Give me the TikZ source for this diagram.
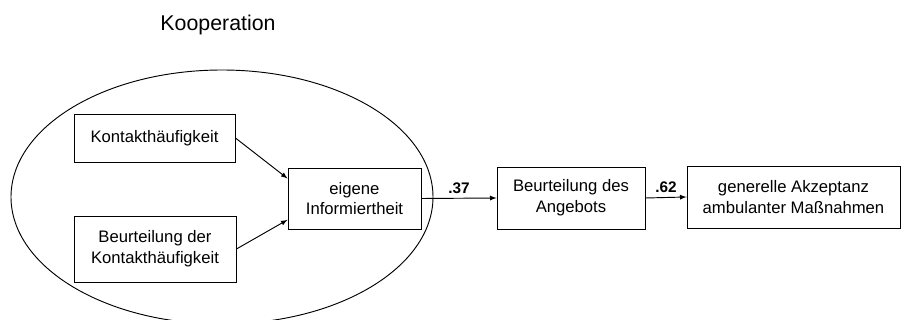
\documentclass[tikz,border=0pt]{standalone}
\usepackage{fontspec}
\setmainfont{Liberation Sans}
\usetikzlibrary{arrows}
\begin{document}
\begin{tikzpicture}[x=0.75pt,y=-0.75pt,
    box/.style={draw, line width=0.7pt, align=center, inner sep=0pt,
      font=\fontsize{12.5}{15.5}\selectfont},
    path/.style={->, >=latex, line width=0.7pt},
    coef/.style={midway, above, font=\fontsize{11.5}{14}\selectfont\bfseries}]
    \useasboundingbox (0,0) rectangle (901,320);
    \begin{scope}
      \clip (0,0) rectangle (901,320);
      \draw[line width=0.7pt] (222,197) ellipse (211 and 127);
    \end{scope}
    \node (titel) at (218,25) {\fontsize{16}{19}\selectfont Kooperation};
    \node[box, minimum width=161*0.75pt, minimum height=48*0.75pt] (kontakt) at (154.5,138) {Kontakthäufigkeit};
    \node[box, minimum width=162*0.75pt, minimum height=66*0.75pt] (beurteilung) at (155,249) {Beurteilung der\\Kontakthäufigkeit};
    \node[box, minimum width=133*0.75pt, minimum height=61*0.75pt] (info) at (354.5,198.5) {eigene\\Informiertheit};
    \node[box, minimum width=148*0.75pt, minimum height=62*0.75pt] (angebot) at (571,198) {Beurteilung des\\Angebots};
    \node[box, minimum width=213*0.75pt, minimum height=62*0.75pt] (akzeptanz) at (793.5,197) {generelle Akzeptanz\\ambulanter Maßnahmen};
    \draw[path] (kontakt.east) -- ([yshift=15pt]info.west);
    \draw[path] (beurteilung.east) -- ([yshift=-16pt]info.west);
    \draw[path] (info.east) -- (angebot.west) node[coef] {.37};
    \draw[path] (angebot.east) -- (akzeptanz.west) node[coef] {.62};
\end{tikzpicture}
\end{document}
